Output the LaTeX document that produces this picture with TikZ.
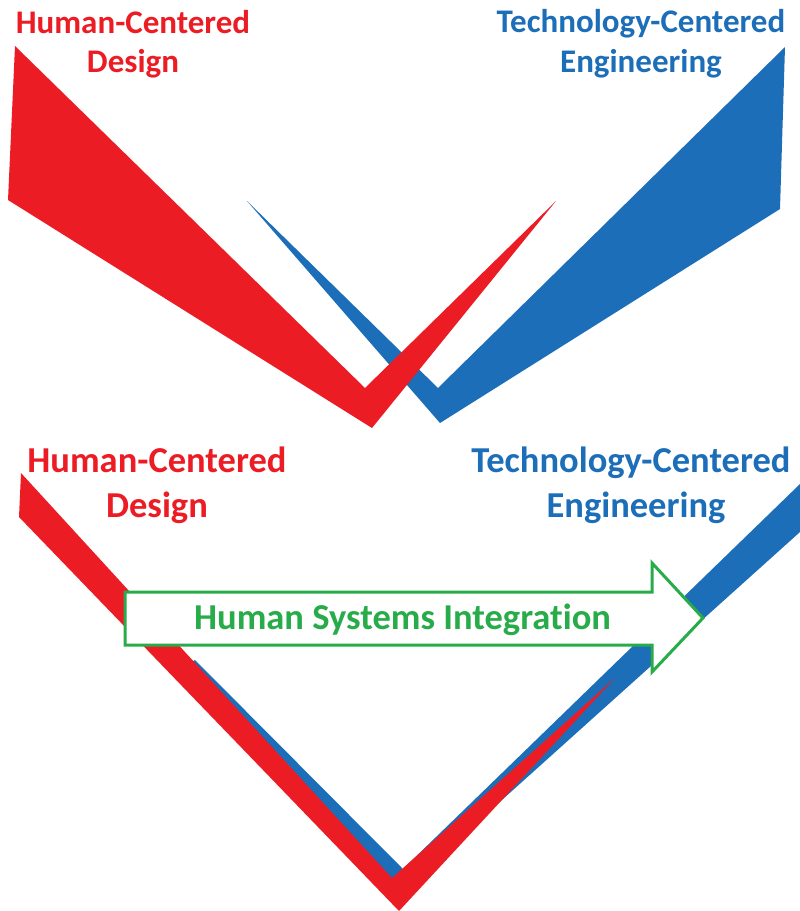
\documentclass[tikz,border=0pt]{standalone}
\usepackage{fontspec}
\setmainfont{Carlito}[Ligatures={NoCommon}]
\definecolor{hcdred}{RGB}{236,28,36}
\definecolor{tceblue}{RGB}{28,110,184}
\definecolor{hsigreen}{RGB}{40,172,74}
\begin{document}
\begin{tikzpicture}[x=1pt,y=-1pt,
  lbl/.style={inner sep=0pt, anchor=base},
  sizeA/.style={font=\fontsize{33}{40}\selectfont\bfseries},
  sizeB/.style={font=\fontsize{36.5}{44}\selectfont\bfseries},
  redband/.style={fill=hcdred, draw=none},
  blueband/.style={fill=tceblue, draw=none},
  hsiarrow/.style={fill=white, draw=hsigreen, line width=3pt, line join=miter}]
\useasboundingbox (0,0) rectangle (800,911);

% ---- upper pair: two separate wedges crossing ----
\fill[blueband] (785,47) -- (438,388) -- (247,201) -- (440,423) -- (780,209) -- cycle;
\fill[redband] (15,46) -- (365,388) -- (556,201) -- (372,428) -- (8,200) -- cycle;

\node[lbl, sizeA, text=hcdred] (hcdTopA) at (133,33) {Human-Centered};
\node[lbl, sizeA, text=hcdred] (hcdTopB) at (133,72) {Design};
\node[lbl, sizeA, text=tceblue] (tceTopA) at (641,32) {Technology-Centered};
\node[lbl, sizeA, text=tceblue] (tceTopB) at (641,72) {Engineering};

% ---- lower pair: the two bands merged into one V ----
\fill[blueband] (800,484) -- (403,869) -- (195,660) -- (190,663) -- (405,895)
  -- (493,808) -- (800,532) -- cycle;
\fill[redband] (21,473) -- (392,878) -- (615,678) -- (399,911) -- (19,517) -- cycle;

\node[lbl, sizeB, text=hcdred] (hcdLowA) at (157,472) {Human-Centered};
\node[lbl, sizeB, text=hcdred] (hcdLowB) at (157,517) {Design};
\node[lbl, sizeB, text=tceblue] (tceLowA) at (631,472) {Technology-Centered};
\node[lbl, sizeB, text=tceblue] (tceLowB) at (636,517) {Engineering};

% ---- integration arrow ----
\draw[hsiarrow] (125,592) -- (652,592) -- (652,563) -- (703,618)
  -- (652,672) -- (652,645) -- (125,645) -- cycle;
\node[lbl, sizeB, text=hsigreen] (hsi) at (402.5,629) {Human Systems Integration};
\end{tikzpicture}
\end{document}
